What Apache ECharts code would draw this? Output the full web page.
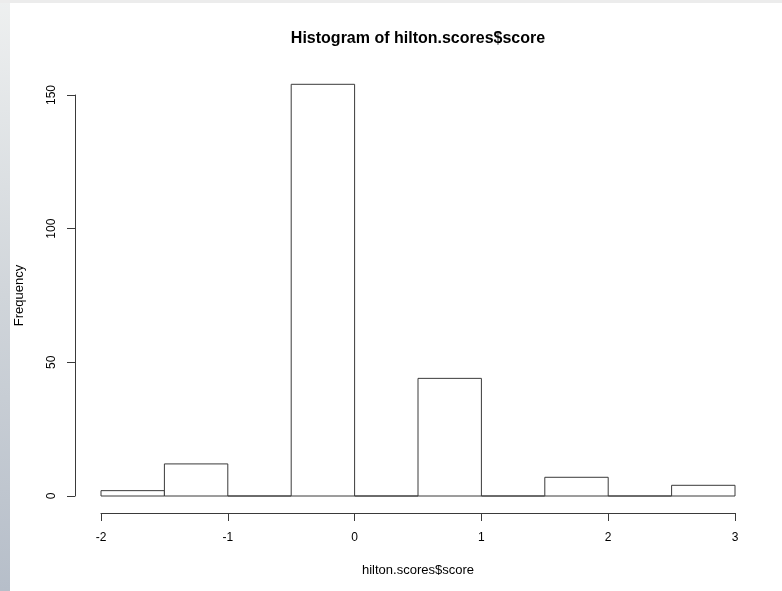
<!DOCTYPE html>
<html>
<head>
<meta charset="utf-8">
<script src="https://cdn.jsdelivr.net/npm/echarts@6/dist/echarts.min.js"></script>
<style>
  html, body { margin: 0; padding: 0; background: #fff; }
  #chart { width: 782px; height: 591px; }
</style>
</head>
<body>
<div id="chart"></div>
<script>
// histogram bins (width 0.5) and their counts
const binStart = [-2, -1.5, -1, -0.5, 0, 0.5, 1, 1.5, 2, 2.5];
const binEnd = [-1.5, -1, -0.5, 0, 0.5, 1, 1.5, 2, 2.5, 3];
const counts = [2, 12, 0, 154, 0, 44, 0, 7, 0, 4];
const xTicks = [-2, -1, 0, 1, 2, 3];
const yTicks = [0, 50, 100, 150];

const FONT = '"Liberation Sans", Arial, sans-serif';
const LINE = '#3a3a3a';

const chart = echarts.init(document.getElementById('chart'));

const binData = binStart.map((s, i) => [s, binEnd[i], counts[i]]);

chart.setOption({
  animation: false,
  backgroundColor: '#ffffff',
  title: {
    text: 'Histogram of hilton.scores$score',
    left: 413,
    top: 26,
    textAlign: 'center',
    textStyle: { fontFamily: FONT, fontSize: 16, fontWeight: 'bold', color: '#000' }
  },
  graphic: [
    {
      type: 'rect',
      left: 0, top: 0,
      shape: { width: 10, height: 591 },
      style: {
        fill: new echarts.graphic.LinearGradient(0, 0, 0, 1, [
          { offset: 0, color: '#eef0f0' },
          { offset: 0.5, color: '#d0d5da' },
          { offset: 1, color: '#b6bec9' }
        ])
      },
      silent: true
    },
    {
      type: 'rect',
      left: 0, top: 0,
      shape: { width: 782, height: 3 },
      style: { fill: '#ececec' },
      silent: true
    }
  ],
  grid: { left: 101, right: 47, top: 95, bottom: 95 },
  xAxis: {
    type: 'value',
    min: xTicks[0],
    max: xTicks[xTicks.length - 1],
    interval: 1,
    offset: 17,
    name: 'hilton.scores$score',
    nameLocation: 'middle',
    nameGap: 51,
    nameTextStyle: { fontFamily: FONT, fontSize: 13, color: '#000' },
    splitLine: { show: false },
    axisLine: { show: true, onZero: false, lineStyle: { color: LINE, width: 1 } },
    axisTick: { show: true, length: 8, lineStyle: { color: LINE } },
    axisLabel: { margin: 19, fontFamily: FONT, fontSize: 12, color: '#000' }
  },
  yAxis: {
    type: 'value',
    min: yTicks[0],
    max: yTicks[yTicks.length - 1],
    interval: 50,
    offset: 26,
    name: 'Frequency',
    nameLocation: 'middle',
    nameRotate: 90,
    nameGap: 49,
    nameTextStyle: { fontFamily: FONT, fontSize: 13, color: '#000' },
    splitLine: { show: false },
    axisLine: { show: true, onZero: false, lineStyle: { color: LINE, width: 1 } },
    axisTick: { show: true, length: 8, lineStyle: { color: LINE } },
    axisLabel: { rotate: 90, margin: 17, fontFamily: FONT, fontSize: 12, color: '#000' }
  },
  series: [{
    type: 'custom',
    clip: false,
    encode: { x: [0, 1], y: 2 },
    data: binData,
    renderItem: function (params, api) {
      const top = api.coord([api.value(0), api.value(2)]);
      const base = api.coord([api.value(1), 0]);
      return {
        type: 'rect',
        shape: { x: top[0], y: top[1], width: base[0] - top[0], height: base[1] - top[1] },
        style: { fill: '#ffffff', stroke: LINE, lineWidth: 1 }
      };
    }
  }]
});
</script>
</body>
</html>
